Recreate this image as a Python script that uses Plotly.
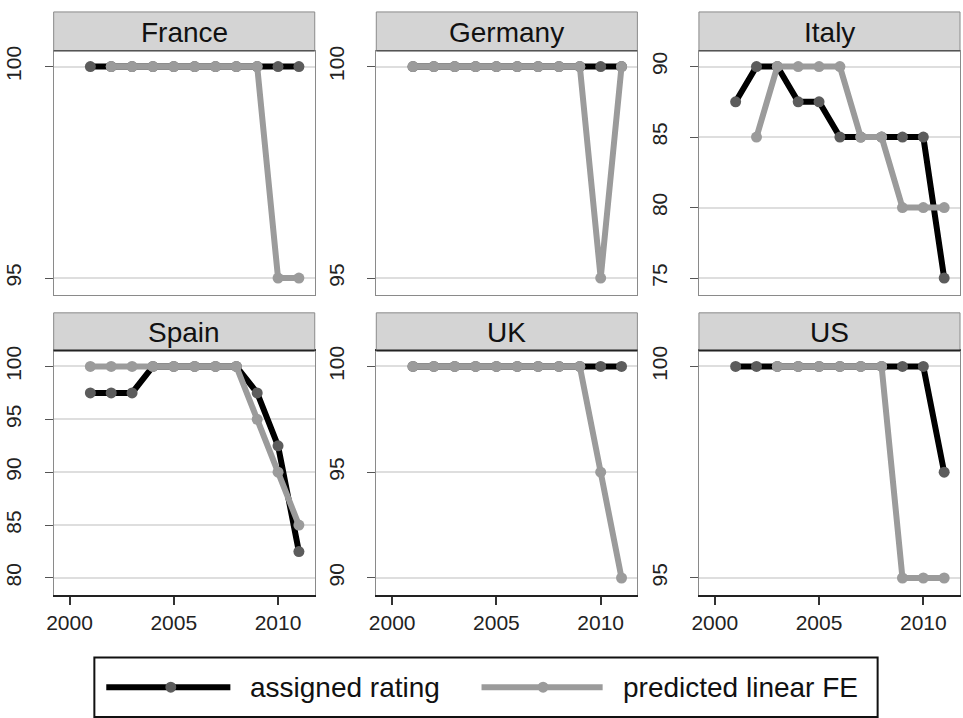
import plotly.graph_objects as go

# ---- data -------------------------------------------------------------
years = [2001, 2002, 2003, 2004, 2005, 2006, 2007, 2008, 2009, 2010, 2011]
countries = ["France", "Germany", "Italy", "Spain", "UK", "US"]

assigned_france = [100, 100, 100, 100, 100, 100, 100, 100, 100, 100, 100]
predicted_france = [None, 100, 100, 100, 100, 100, 100, 100, 100, 95, 95]

assigned_germany = [100, 100, 100, 100, 100, 100, 100, 100, 100, 100, 100]
predicted_germany = [100, 100, 100, 100, 100, 100, 100, 100, 100, 95, 100]

assigned_italy = [87.5, 90, 90, 87.5, 87.5, 85, 85, 85, 85, 85, 75]
predicted_italy = [None, 85, 90, 90, 90, 90, 85, 85, 80, 80, 80]

assigned_spain = [97.5, 97.5, 97.5, 100, 100, 100, 100, 100, 97.5, 92.5, 82.5]
predicted_spain = [100, 100, 100, 100, 100, 100, 100, 100, 95, 90, 85]

assigned_uk = [100, 100, 100, 100, 100, 100, 100, 100, 100, 100, 100]
predicted_uk = [100, 100, 100, 100, 100, 100, 100, 100, 100, 95, 90]

assigned_us = [100, 100, 100, 100, 100, 100, 100, 100, 100, 100, 97.5]
predicted_us = [None, None, 100, 100, 100, 100, 100, 100, 95, 95, 95]

assigned = [assigned_france, assigned_germany, assigned_italy,
            assigned_spain, assigned_uk, assigned_us]
predicted = [predicted_france, predicted_germany, predicted_italy,
             predicted_spain, predicted_uk, predicted_us]

y_ticks = [[95, 100], [95, 100], [75, 80, 85, 90],
           [80, 85, 90, 95, 100], [90, 95, 100], [95, 100]]
x_ticks = [2000, 2005, 2010]
legend_labels = ["assigned rating", "predicted linear FE"]

# ---- styling ----------------------------------------------------------
W, H = 963, 718
FONT = "Liberation Sans, Arial, Helvetica, sans-serif"
BLACK = "#000000"
DARK_MARKER = "#5c5c5c"
GRAY = "#9b9b9b"
HEADER_FILL = "#d4d4d4"
FRAME = "#8a8a8a"

col_px = [(47, 310), (372, 635), (697, 960)]
row_px = [  # (header top, plot top, plot bottom)
    (7, 46, 292),
    (310, 348, 594),
]


def px_x(v):
    return v / W


def px_y(v):
    return 1 - v / H


fig = go.Figure()
shapes = []
annotations = []

for i, name in enumerate(countries):
    r, c = divmod(i, 3)
    n = i + 1
    xa = "x" if n == 1 else f"x{n}"
    ya = "y" if n == 1 else f"y{n}"
    xkey = "xaxis" if n == 1 else f"xaxis{n}"
    ykey = "yaxis" if n == 1 else f"yaxis{n}"

    fig.add_trace(go.Scatter(
        x=years, y=assigned[i], xaxis=xa, yaxis=ya, mode="lines+markers",
        line=dict(color=BLACK, width=6),
        marker=dict(color=DARK_MARKER, size=11),
        showlegend=False, name=legend_labels[0]))
    fig.add_trace(go.Scatter(
        x=years, y=predicted[i], xaxis=xa, yaxis=ya, mode="lines+markers",
        line=dict(color=GRAY, width=6),
        marker=dict(color=GRAY, size=11),
        showlegend=False, name=legend_labels[1]))

    x0, x1 = col_px[c]
    h_top, p_top, p_bot = row_px[r]
    lo, hi = min(y_ticks[i]), max(y_ticks[i])
    span = hi - lo
    plot_h = p_bot - p_top
    # leave ~16px above the top tick and ~17px below the bottom tick
    unit = (plot_h - 33) / span
    y_range = [lo - 17 / unit, hi + 16 / unit]

    bottom_row = r == 1
    fig.layout[xkey] = dict(
        domain=[px_x(x0), px_x(x1)], anchor=ya,
        range=[1999.24, 2011.76],
        tickvals=x_ticks if bottom_row else [],
        showticklabels=bottom_row,
        ticks="outside" if bottom_row else "",
        ticklen=8, tickwidth=1.5, tickcolor="#333333",
        tickfont=dict(size=21, color="#222222", family=FONT),
        showgrid=False, zeroline=False,
        showline=True, mirror=True,
        linecolor="#222222" if bottom_row else FRAME,
        linewidth=2 if bottom_row else 1,
    )
    fig.layout[ykey] = dict(
        domain=[px_y(p_bot), px_y(p_top)], anchor=xa,
        range=y_range, tickvals=y_ticks[i],
        tickangle=-90, ticks="outside", ticklen=8, tickwidth=1,
        tickcolor="#555555", ticklabelstandoff=15,
        tickfont=dict(size=21, color="#222222", family=FONT),
        showgrid=True, gridcolor="#dedede", gridwidth=1.5,
        zeroline=False, showline=True, mirror=True,
        linecolor=FRAME, linewidth=1,
    )

    # strip header above each panel
    shapes.append(dict(
        type="rect", xref="paper", yref="paper",
        x0=px_x(x0), x1=px_x(x1), y0=px_y(p_top), y1=px_y(h_top),
        fillcolor=HEADER_FILL, line=dict(color=FRAME, width=1), layer="above"))
    shapes.append(dict(
        type="line", xref="paper", yref="paper",
        x0=px_x(x0), x1=px_x(x1), y0=px_y(p_top), y1=px_y(p_top),
        line=dict(color="#222222" if bottom_row else "#555555",
                  width=2 if bottom_row else 1.5), layer="above"))
    annotations.append(dict(
        text=name, xref="paper", yref="paper",
        x=px_x((x0 + x1) / 2), y=px_y((h_top + p_top) / 2 + 1),
        xanchor="center", yanchor="middle", showarrow=False,
        font=dict(size=28, color="#111111", family=FONT)))

# ---- legend box -------------------------------------------------------
leg_y = 687
shapes.append(dict(
    type="rect", xref="paper", yref="paper",
    x0=px_x(88), x1=px_x(877), y0=px_y(717), y1=px_y(657),
    fillcolor="white", line=dict(color="#111111", width=2)))
legend_items = [
    (100, 225, 165, 243, BLACK, DARK_MARKER),
    (478, 600, 540, 618, GRAY, GRAY),
]
for label, (lx0, lx1, mx, tx, lc, mc) in zip(legend_labels, legend_items):
    shapes.append(dict(
        type="line", xref="paper", yref="paper",
        x0=px_x(lx0), x1=px_x(lx1), y0=px_y(leg_y), y1=px_y(leg_y),
        line=dict(color=lc, width=6)))
    shapes.append(dict(
        type="circle", xref="paper", yref="paper",
        x0=px_x(mx - 5.5), x1=px_x(mx + 5.5),
        y0=px_y(leg_y + 5.5), y1=px_y(leg_y - 5.5),
        fillcolor=mc, line=dict(width=0)))
    annotations.append(dict(
        text=label, xref="paper", yref="paper",
        x=px_x(tx), y=px_y(leg_y), xanchor="left", yanchor="middle",
        showarrow=False, font=dict(size=28, color="#111111", family=FONT)))

fig.update_layout(
    width=W, height=H,
    margin=dict(l=0, r=0, t=0, b=0),
    paper_bgcolor="white", plot_bgcolor="white",
    font=dict(family=FONT, color="#222222"),
    shapes=shapes, annotations=annotations,
    showlegend=False,
)

fig.write_html("out.html")
